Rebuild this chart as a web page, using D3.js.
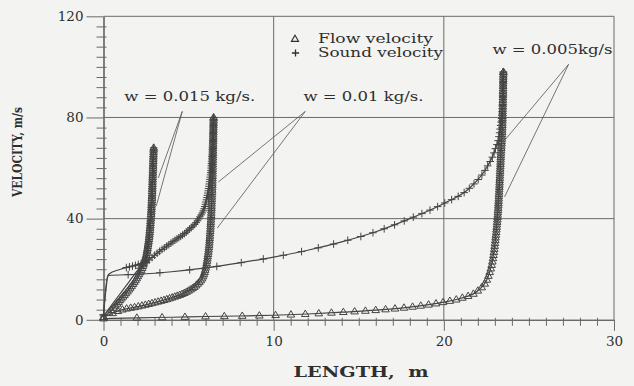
<!DOCTYPE html>
<html><head><meta charset="utf-8">
<script src="https://cdn.jsdelivr.net/npm/d3@7"></script>
<style>html,body{margin:0;padding:0;background:#f3f3f1;} svg{display:block;}</style>
</head><body><svg id="c" width="634" height="386"></svg>
<script>
// ---------- data ----------
const xTicks = [0, 10, 20, 30];
const yTicks = [0, 40, 80, 120];
const xTitle = "LENGTH,  m";
const yTitle = "VELOCITY, m/s";
const legendLabels = ["Flow velocity", "Sound velocity"];

// w = 0.015 kg/s  [length m, velocity m/s]
const flow015  = [[0,1],[0.5,4],[1,8],[1.5,12],[2,17],[2.4,23],[2.6,29],[2.75,37],[2.85,48],[2.9,58],[2.95,68]];
const sound015 = [[0,2],[0.3,18],[1,20],[2,21.8],[2.45,23],[2.6,28],[2.72,36],[2.82,46],[2.88,56],[2.95,68]];
// w = 0.01 kg/s
const flow010  = [[0,1],[0.5,2.5],[1,3.8],[2,5.2],[3,6.8],[4,8.7],[5,11.5],[5.5,14],[5.9,18],[6.1,24],[6.25,33],[6.35,45],[6.42,60],[6.47,80]];
const sound010 = [[0,1.5],[0.5,6],[1,10.5],[1.5,15],[2,19.5],[2.5,22.5],[3,25.5],[4,30.5],[5,35.5],[5.6,40],[6,46],[6.2,53],[6.35,62],[6.43,72],[6.47,80]];
// w = 0.005 kg/s
const flow005  = [[0,0.5],[2,0.8],[4,1],[6,1.3],[8,1.5],[10,1.8],[12,2.3],[14,3],[16,3.8],[18,5],[20,7],[21,8.5],[22,11.5],[22.6,17],[23,30],[23.2,45],[23.35,65],[23.45,80],[23.5,98]];
const sound005 = [[0,2],[0.25,17.5],[2,18],[4,19],[6,20.5],[8,22.5],[10,24.8],[12,27.5],[14,30.8],[16,34.8],[18,40],[20,46],[21.5,52],[22.5,60],[23,67],[23.3,75],[23.45,85],[23.5,98]];

// annotation text
const labels015 = "w = 0.015 kg/s.";
const labels010 = "w = 0.01 kg/s.";
const labels005 = "w = 0.005kg/s";

// ---------- setup ----------
const svg = d3.select("#c");
const x = d3.scaleLinear().domain([0, 30]).range([103.5, 614]);
const y = d3.scaleLinear().domain([0, 120]).range([319.8, 16.3]);
const ink = "#2f2f2f", markInk = "#454545", gridCol = "#6a6a6a";
const serif = "'DejaVu Serif', 'Liberation Serif', serif";

// grid + frame
const g = svg.append("g");
[10, 20, 30].forEach(v => g.append("line").attr("x1", x(v)).attr("x2", x(v)).attr("y1", y(0)).attr("y2", y(120))
  .attr("stroke", gridCol).attr("stroke-width", 1));
[40, 80, 120].forEach(v => g.append("line").attr("x1", x(0)).attr("x2", x(30)).attr("y1", y(v)).attr("y2", y(v))
  .attr("stroke", gridCol).attr("stroke-width", 1));

// axes
const yMinor = d3.range(0, 121, 4).filter(v => v % 40 !== 0);
const xMinor = d3.range(0, 31, 1).filter(v => v % 10 !== 0);

const yAx = svg.append("g").attr("transform", `translate(${x(0)},0)`)
  .call(d3.axisLeft(y).tickValues(yTicks).tickSize(17).tickSizeOuter(0).tickPadding(3));
const yAxMin = svg.append("g").attr("transform", `translate(${x(0)},0)`)
  .call(d3.axisLeft(y).tickValues(yMinor).tickSize(7).tickSizeOuter(0).tickFormat(""));
const xAx = svg.append("g").attr("transform", `translate(0,${y(0)})`)
  .call(d3.axisBottom(x).tickValues(xTicks).tickSize(11).tickSizeOuter(0).tickPadding(6));
const xAxMin = svg.append("g").attr("transform", `translate(0,${y(0)})`)
  .call(d3.axisBottom(x).tickValues(xMinor).tickSize(6).tickSizeOuter(0).tickFormat(""));
[yAx, yAxMin, xAx, xAxMin].forEach(a => {
  a.selectAll("path.domain").attr("stroke", gridCol).attr("stroke-width", 1.2);
  a.selectAll("line").attr("stroke", gridCol).attr("stroke-width", 1);
  a.selectAll("text").attr("fill", ink).style("font-family", serif).style("font-size", "13.5px");
});
yAxMin.selectAll("line").attr("x1", 3);
xAxMin.selectAll("line").attr("y1", -2);

// axis titles
svg.append("text").attr("x", 361).attr("y", 377).attr("text-anchor", "middle")
  .attr("textLength", 135).attr("lengthAdjust", "spacingAndGlyphs")
  .style("font-family", serif).style("font-weight", "bold").style("font-size", "14px").attr("fill", ink)
  .style("white-space", "pre").text(xTitle);
svg.append("text").attr("transform", "translate(22,152) rotate(-90)").attr("text-anchor", "middle")
  .attr("textLength", 90).attr("lengthAdjust", "spacingAndGlyphs")
  .style("font-family", serif).style("font-weight", "bold").style("font-size", "12.5px").attr("fill", ink)
  .text(yTitle);

// ---------- series ----------
const triPath = "M0,-4L3.8,2.4L-3.8,2.4Z";
const plusPath = "M-3.8,0H3.8M0,-3.8V3.8";
const series = [
  { data: flow015,  kind: "flow",  A: 7,    p: 0.6 },
  { data: sound015, kind: "sound", A: 300,  p: 1.5 },
  { data: flow010,  kind: "flow",  A: 10,   p: 0.6 },
  { data: sound010, kind: "sound", A: 420,  p: 1.5 },
  { data: flow005,  kind: "flow",  A: 22,   p: 0.6 },
  { data: sound005, kind: "sound", A: 2400, p: 1.5 },
];
const line = d3.line().x(d => x(d[0])).y(d => y(d[1])).curve(d3.curveMonotoneX);
const gs = svg.append("g");
series.forEach(s => {
  const path = gs.append("path").datum(s.data).attr("d", line)
    .attr("fill", "none").attr("stroke", markInk).attr("stroke-width", 1.2);
  const node = path.node();
  const L = node.getTotalLength();
  const pts = [];
  let t = 0;
  while (t < L) {
    const p = node.getPointAtLength(t);
    pts.push(p);
    const v = Math.max(0.5, y.invert(p.y));
    const step = Math.max(2.3, Math.min(60, s.A / Math.pow(v, s.p)));
    t += step;
  }
  pts.push(node.getPointAtLength(L));
  gs.append("g").selectAll("path").data(pts).join("path")
    .attr("transform", p => `translate(${p.x},${p.y})`)
    .attr("d", s.kind === "flow" ? triPath : plusPath)
    .attr("fill", "none").attr("stroke", markInk).attr("stroke-width", 1);
});

// ---------- legend ----------
const leg = svg.append("g");
leg.append("path").attr("transform", "translate(295,39)").attr("d", "M0,-3.8L3.6,2.4L-3.6,2.4Z")
  .attr("fill", "none").attr("stroke", ink).attr("stroke-width", 1.1);
leg.append("path").attr("transform", "translate(295.5,53)").attr("d", "M-3.6,0H3.6M0,-3.6V3.6")
  .attr("fill", "none").attr("stroke", ink).attr("stroke-width", 1.3);
leg.append("text").attr("x", 318).attr("y", 42.5).attr("textLength", 115).attr("lengthAdjust", "spacingAndGlyphs")
  .style("font-family", serif).style("font-size", "13.5px").attr("fill", ink).text(legendLabels[0]);
leg.append("text").attr("x", 318).attr("y", 57).attr("textLength", 125).attr("lengthAdjust", "spacingAndGlyphs")
  .style("font-family", serif).style("font-size", "13.5px").attr("fill", ink).text(legendLabels[1]);

// ---------- annotations ----------
const notes = [
  { text: labels015, at: [1.22, 86.7], w: 131, from: [4.63, 82.4], to: [[3.22, 56.1], [3.1, 45]] },
  { text: labels010, at: [11.75, 86.7], w: 120, from: [11.86, 82.4], to: [[6.75, 54.5], [6.69, 36.3]] },
  { text: labels005, at: [22.86, 105], w: 120, from: [27.33, 101], to: [[23.6, 71.2], [23.57, 48.6]] },
];
const an = svg.append("g");
notes.forEach(n => {
  an.append("text").attr("x", x(n.at[0])).attr("y", y(n.at[1]))
    .attr("textLength", n.w).attr("lengthAdjust", "spacingAndGlyphs")
    .style("font-family", serif).style("font-size", "13.5px").attr("fill", ink).text(n.text);
  n.to.forEach(t => an.append("line")
    .attr("x1", x(n.from[0])).attr("y1", y(n.from[1])).attr("x2", x(t[0])).attr("y2", y(t[1]))
    .attr("stroke", "#555").attr("stroke-width", 0.8));
});
</script></body></html>
